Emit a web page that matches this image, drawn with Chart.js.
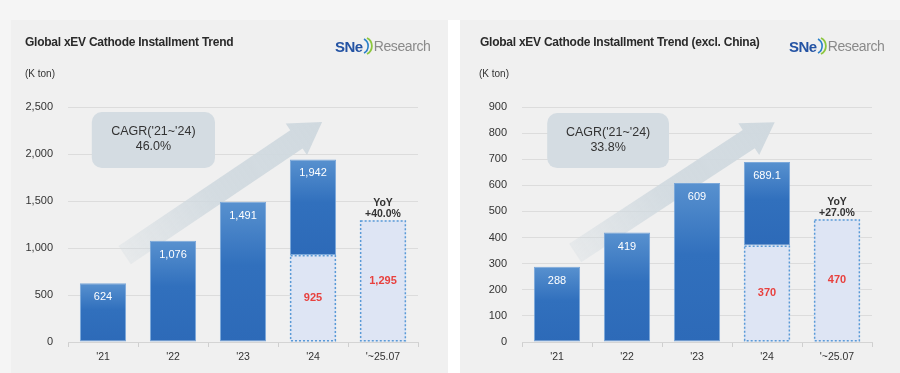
<!DOCTYPE html>
<html>
<head>
<meta charset="utf-8">
<script src="https://cdn.jsdelivr.net/npm/chart.js@4.4.1/dist/chart.umd.min.js"></script>
<style>
  html, body { margin: 0; padding: 0; }
  body { width: 900px; height: 373px; background: #f5f5f5; position: relative; overflow: hidden;
         font-family: "Liberation Sans", Arial, sans-serif; }
  .gap { position: absolute; left: 448px; top: 20px; width: 12px; height: 353px; background: #fff; }
  .panel { position: absolute; top: 20px; height: 353px; background: #f0f0f0; }
  .panel canvas { position: absolute; left: 0; top: 0; }
  .title { position: absolute; top: 15px; font-size: 12px; font-weight: bold; color: #2a2a2a; letter-spacing: -0.25px; }
  .unit { position: absolute; top: 48px; font-size: 10px; color: #333; }
  .logo { position: absolute; top: 17px; height: 18px; display: flex; align-items: center; white-space: nowrap; }
  .logo .sne { font-size: 15px; font-weight: bold; color: #2453a3; letter-spacing: -0.5px; }
  .logo .res { font-size: 14px; color: #8a8a8a; margin-left: 1px; letter-spacing: -0.4px; }
</style>
</head>
<body>
<div class="panel" style="left:11px;width:437px">
  <canvas id="chartGlobal" width="437" height="353"></canvas>
  <div class="title" style="left:14px">Global xEV Cathode Installment Trend</div>
  <div class="unit" style="left:14px">(K ton)</div>
  <div class="logo" style="left:324px">
    <span class="sne">SNe</span>
    <svg width="10" height="18" viewBox="0 0 10 18"><path d="M1 2 A8 8 0 0 1 1 16" fill="none" stroke="#2a7fc9" stroke-width="1.6"/><path d="M4 1 A9 9 0 0 1 4 17" fill="none" stroke="#8cc63e" stroke-width="1.8"/></svg>
    <span class="res">Research</span>
  </div>
</div>
<div class="gap"></div>
<div class="panel" style="left:460px;width:440px">
  <canvas id="chartExcl" width="440" height="353"></canvas>
  <div class="title" style="left:20px">Global xEV Cathode Installment Trend (excl. China)</div>
  <div class="unit" style="left:19px">(K ton)</div>
  <div class="logo" style="left:329px">
    <span class="sne">SNe</span>
    <svg width="10" height="18" viewBox="0 0 10 18"><path d="M1 2 A8 8 0 0 1 1 16" fill="none" stroke="#2a7fc9" stroke-width="1.6"/><path d="M4 1 A9 9 0 0 1 4 17" fill="none" stroke="#8cc63e" stroke-width="1.8"/></svg>
    <span class="res">Research</span>
  </div>
</div>

<script>
// data
const categories = ["'21", "'22", "'23", "'24", "'~25.07"];

const globalTotals = [624, 1076, 1491, 1942, null];
const globalH1 = [null, null, null, 925, 1295];
const globalTicks = [0, 500, 1000, 1500, 2000, 2500];
const globalCagr = ["CAGR('21~'24)", '46.0%'];
const globalYoy = ['YoY', '+40.0%'];

const exclTotals = [288, 419, 609, 689.1, null];
const exclH1 = [null, null, null, 370, 470];
const exclTicks = [0, 100, 200, 300, 400, 500, 600, 700, 800, 900];
const exclCagr = ["CAGR('21~'24)", '33.8%'];
const exclYoy = ['YoY', '+27.0%'];

const FONT = '"Liberation Sans", Arial, sans-serif';
const fmt = v => v.toLocaleString('en-US');

function drawArrow(ctx, ax, ay, bx, by) {
    const dx = bx - ax, dy = by - ay, len = Math.hypot(dx, dy);
    const ux = dx / len, uy = dy / len, nx = -uy, ny = ux;
    const head = 31, shaft = 11, wing = 19;
    const hx = bx - ux * head, hy = by - uy * head;
    const grad = ctx.createLinearGradient(ax, ay, bx, by);
    grad.addColorStop(0, 'rgba(208,217,223,0.3)');
    grad.addColorStop(0.45, 'rgba(208,217,223,0.9)');
    grad.addColorStop(1, 'rgba(208,217,223,1)');
    ctx.fillStyle = grad;
    ctx.beginPath();
    ctx.moveTo(ax + nx * shaft, ay + ny * shaft);
    ctx.lineTo(hx + nx * shaft, hy + ny * shaft);
    ctx.lineTo(hx + nx * wing, hy + ny * wing);
    ctx.lineTo(bx, by);
    ctx.lineTo(hx - nx * wing, hy - ny * wing);
    ctx.lineTo(hx - nx * shaft, hy - ny * shaft);
    ctx.lineTo(ax - nx * shaft, ay - ny * shaft);
    ctx.closePath();
    ctx.fill();
}

const decorPlugin = {
    id: 'decor',
    beforeDatasetsDraw(chart, args, opts) {
        const {ctx, scales: {x, y}} = chart;
        ctx.save();
        drawArrow(ctx,
            x.getPixelForValue(opts.arrowFrom[0]), y.getPixelForValue(opts.arrowFrom[1]),
            x.getPixelForValue(opts.arrowTo[0]), y.getPixelForValue(opts.arrowTo[1]));

        // CAGR box
        const bx0 = x.getPixelForValue(opts.box[0]), bx1 = x.getPixelForValue(opts.box[1]);
        const by0 = y.getPixelForValue(opts.box[2]), by1 = y.getPixelForValue(opts.box[3]);
        ctx.fillStyle = '#d4dce2';
        ctx.beginPath();
        ctx.roundRect(bx0, by0, bx1 - bx0, by1 - by0, 10);
        ctx.fill();
        ctx.fillStyle = '#333';
        ctx.font = '12.5px ' + FONT;
        ctx.textAlign = 'center';
        ctx.textBaseline = 'middle';
        const cx = (bx0 + bx1) / 2, cy = (by0 + by1) / 2;
        ctx.fillText(opts.cagr[0], cx, cy - 8);
        ctx.fillText(opts.cagr[1], cx, cy + 7);
        ctx.restore();
    },
    afterDatasetsDraw(chart, args, opts) {
        const {ctx} = chart;
        const light = chart.getDatasetMeta(0), dark = chart.getDatasetMeta(1);
        ctx.save();
        ctx.textAlign = 'center';
        ctx.textBaseline = 'middle';

        light.data.forEach((bar, i) => {
            if (opts.h1[i] == null) return;
            const w = bar.width;
            ctx.setLineDash([2, 2]);
            ctx.lineWidth = 1.5;
            ctx.strokeStyle = '#5a9ad6';
            ctx.strokeRect(bar.x - w / 2 + 0.75, bar.y + 0.75, w - 1.5, bar.base - bar.y - 1.5);
            ctx.setLineDash([]);
            ctx.fillStyle = '#e8413e';
            ctx.font = 'bold 11px ' + FONT;
            ctx.fillText(fmt(opts.h1[i]), bar.x, (bar.y + bar.base) / 2);
        });

        dark.data.forEach((bar, i) => {
            if (opts.totals[i] == null) return;
            ctx.fillStyle = '#fff';
            ctx.font = '11px ' + FONT;
            ctx.fillText(fmt(opts.totals[i]), bar.x, bar.y + 14);
        });

        // YoY note over the last bar
        const last = light.data[light.data.length - 1];
        ctx.fillStyle = '#333';
        ctx.font = 'bold 10.5px ' + FONT;
        ctx.fillText(opts.yoy[0], last.x, last.y - 17);
        ctx.fillText(opts.yoy[1], last.x, last.y - 6);
        ctx.restore();
    }
};

function darkGradient(context) {
    const chart = context.chart;
    const raw = context.raw;
    if (!raw || !chart.chartArea) return '#2f6cb9';
    const y = chart.scales.y;
    const top = y.getPixelForValue(raw[1]), bottom = y.getPixelForValue(raw[0]);
    const g = chart.ctx.createLinearGradient(0, top, 0, bottom);
    g.addColorStop(0, '#5891cf');
    g.addColorStop(0.45, '#3170bd');
    g.addColorStop(1, '#2d6ab8');
    return g;
}

function makeChart(canvasId, totals, h1, ticks, cagr, yoy, layout) {
    const ctx = document.getElementById(canvasId).getContext('2d');
    const floating = totals.map((t, i) => t == null ? null : [h1[i] || 0, t]);

    return new Chart(ctx, {
        type: 'bar',
        data: {
            labels: categories,
            datasets: [
                {
                    label: 'H1',
                    data: h1,
                    backgroundColor: '#dee5f4',
                    borderWidth: 0,
                    grouped: false,
                    categoryPercentage: 1,
                    barPercentage: 0.66
                },
                {
                    label: 'Total',
                    data: floating,
                    backgroundColor: darkGradient,
                    borderColor: 'rgba(110,160,215,0.9)',
                    borderWidth: 1,
                    borderSkipped: false,
                    grouped: false,
                    categoryPercentage: 1,
                    barPercentage: 0.66
                }
            ]
        },
        options: {
            responsive: false,
            animation: false,
            layout: {
                padding: {top: 87, right: layout.padRight, bottom: 0, left: 0}
            },
            plugins: {
                legend: {display: false},
                tooltip: {enabled: false},
                decor: {
                    totals: totals,
                    h1: h1,
                    cagr: cagr,
                    yoy: yoy,
                    arrowFrom: layout.arrowFrom,
                    arrowTo: layout.arrowTo,
                    box: layout.box
                }
            },
            scales: {
                x: {
                    grid: {
                        offset: true,
                        drawOnChartArea: false,
                        drawTicks: true,
                        tickLength: 5,
                        color: '#cfcfcf'
                    },
                    border: {display: true, color: '#d4d4d4'},
                    ticks: {
                        color: '#333',
                        padding: 4,
                        font: {family: FONT, size: 10.5}
                    },
                    afterFit: axis => { axis.height = 31; }
                },
                y: {
                    min: ticks[0],
                    max: ticks[ticks.length - 1],
                    afterBuildTicks: axis => { axis.ticks = ticks.map(v => ({value: v})); },
                    grid: {color: '#dcdcdc', drawTicks: false},
                    border: {display: false},
                    ticks: {
                        color: '#333',
                        padding: 15,
                        font: {family: FONT, size: 11},
                        callback: v => fmt(v)
                    },
                    afterFit: axis => { axis.width = layout.left; }
                }
            }
        },
        plugins: [decorPlugin]
    });
}

document.addEventListener('DOMContentLoaded', function () {
    makeChart('chartGlobal', globalTotals, globalH1, globalTicks, globalCagr, globalYoy, {
        left: 57,
        padRight: 30,
        arrowFrom: [0.31, 925],
        arrowTo: [3.13, 2340],
        box: [-0.16, 1.6, 2447, 1851]
    });
    makeChart('chartExcl', exclTotals, exclH1, exclTicks, exclCagr, exclYoy, {
        left: 62,
        padRight: 28,
        arrowFrom: [0.26, 341],
        arrowTo: [3.11, 842],
        box: [-0.14, 1.6, 877, 666]
    });
});
</script>
</body>
</html>
